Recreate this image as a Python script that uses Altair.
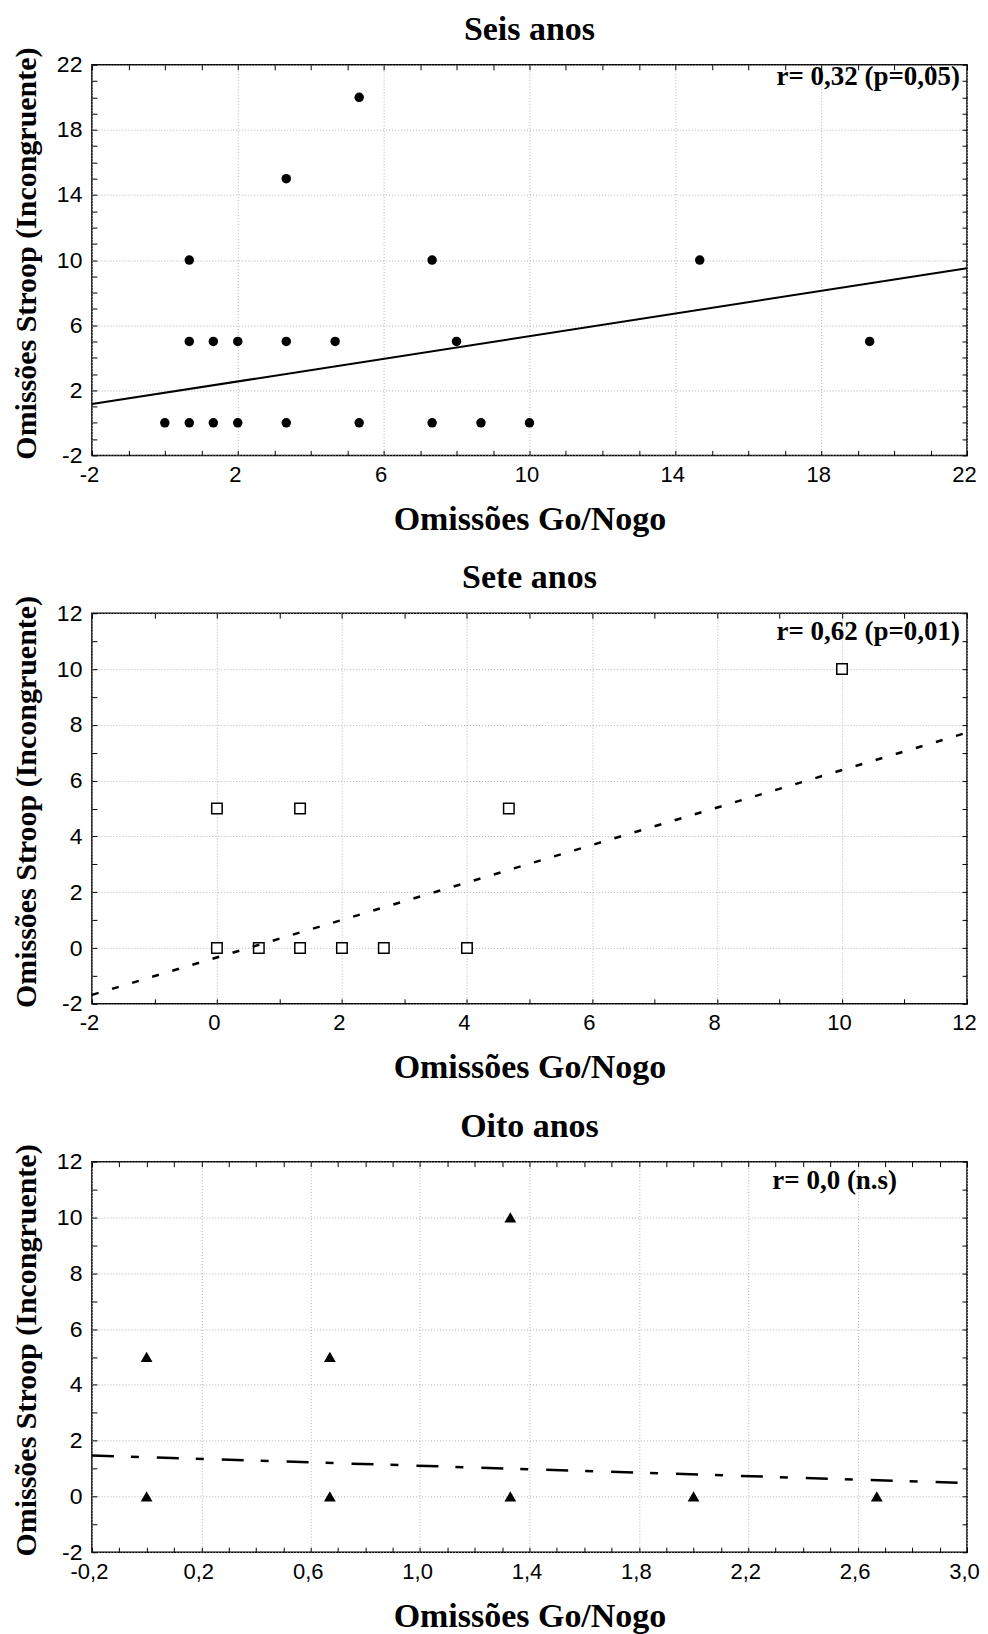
import altair as alt
import pandas as pd

# ---------------- data ----------------
panel_titles = ["Seis anos", "Sete anos", "Oito anos"]
annotations = ["r= 0,32 (p=0,05)", "r= 0,62 (p=0,01)", "r= 0,0 (n.s)"]
x_title = "Omissões Go/Nogo"
y_title = "Omissões Stroop (Incongruente)"

# six-year-olds
x6 = [0, 0.67, 1.33, 2, 3.33, 5.33, 7.33, 8.67, 10,
      0.67, 1.33, 2, 3.33, 4.67, 8, 19.33,
      0.67, 7.33, 14.67,
      3.33,
      5.33]
y6 = [0, 0, 0, 0, 0, 0, 0, 0, 0,
      5, 5, 5, 5, 5, 5, 5,
      10, 10, 10,
      15,
      20]
fit6_x = [-2, 22]
fit6_y = [1.15, 9.5]

# seven-year-olds
x7 = [0, 0.67, 1.33, 2, 2.67, 4, 0, 1.33, 4.67, 10]
y7 = [0, 0, 0, 0, 0, 0, 5, 5, 5, 10]
fit7_x = [-2, 12]
fit7_y = [-1.68, 7.72]

# eight-year-olds
x8 = [0, 0.67, 1.33, 2, 2.67, 0, 0.67, 1.33]
y8 = [0, 0, 0, 0, 0, 5, 5, 10]
fit8_x = [-0.2, 3.0]
fit8_y = [1.47, 0.48]

# axis tick labels
x6_labels = [-2, 2, 6, 10, 14, 18, 22]
y6_labels = [-2, 2, 6, 10, 14, 18, 22]
x7_labels = [-2, 0, 2, 4, 6, 8, 10, 12]
y7_labels = [-2, 0, 2, 4, 6, 8, 10, 12]
x8_labels = [-0.2, 0.2, 0.6, 1.0, 1.4, 1.8, 2.2, 2.6, 3.0]
y8_labels = [-2, 0, 2, 4, 6, 8, 10, 12]

# ---------------- styling ----------------
W, H = 876, 391
SERIF = "Liberation Serif"
SANS = "Liberation Sans"
GRID = "#b4b4b4"


def minor(lo, hi, step):
    n = int(round((hi - lo) / step))
    return [round(lo + i * step, 4) for i in range(n + 1)]


INT_FMT = "(datum.value < 0 ? '-' : '') + format(abs(datum.value), 'd')"
DEC_FMT = "(datum.value < 0 ? '-' : '') + replace(format(abs(datum.value), '.1f'), '.', ',')"


def main_axis(orient, values, fmt):
    common = dict(
        orient=orient, values=values, grid=True, gridColor=GRID, gridDash=[1, 2],
        gridWidth=1, ticks=False, tickSize=0, domain=False, labelFont=SANS,
        labelColor="black", labelFlush=False, labelOverlap=False,
        labelExpr=fmt, titleFont=SERIF, titleFontWeight="bold", titleColor="black",
        titleBaseline="alphabetic",
    )
    if orient == "bottom":
        return alt.Axis(labelPadding=9, labelFontSize=22, labelOffset=-3,
                        title=x_title, titleFontSize=34, titleY=74, **common)
    return alt.Axis(labelPadding=10, labelFontSize=23, title=y_title,
                    titleFontSize=30, titleX=-56, titleY=H / 2 - 7,
                    labelBaseline="middle", **common)


def tick_axis(orient, values, offset):
    return alt.Axis(orient=orient, offset=offset, values=values, grid=False,
                    labels=False, domain=False, ticks=True, tickSize=5,
                    tickColor="black", tickWidth=1, title=None)


def panel(data, fx, fy, xdom, ydom, xlab, ylab, xminor, yminor, fmt,
          mark_fn, line_kw, title, annot, adx, ady):
    fit = pd.DataFrame({"x": fx, "y": fy})
    note = pd.DataFrame({"x": [xdom[1]], "y": [ydom[1]], "t": [annot]})
    xs_ = alt.Scale(domain=xdom, nice=False, zero=False)
    ys_ = alt.Scale(domain=ydom, nice=False, zero=False)

    pts = mark_fn(alt.Chart(data)).encode(
        x=alt.X("x:Q", scale=xs_, axis=main_axis("bottom", xlab, fmt)),
        y=alt.Y("y:Q", scale=ys_, axis=main_axis("left", ylab, INT_FMT)),
    )
    line = alt.Chart(fit).mark_line(color="black", **line_kw).encode(
        x=alt.X("x:Q", scale=xs_, axis=tick_axis("top", xminor, -H)),
        y=alt.Y("y:Q", scale=ys_, axis=tick_axis("right", yminor, -W)),
    )
    txt = alt.Chart(note).mark_text(
        align="right", baseline="middle", dx=adx, dy=ady, font=SERIF,
        fontSize=27, fontWeight="bold", color="black",
    ).encode(
        x=alt.X("x:Q", scale=xs_, axis=tick_axis("bottom", xminor, -H)),
        y=alt.Y("y:Q", scale=ys_, axis=tick_axis("left", yminor, -W)),
        text="t:N",
    )
    return alt.layer(pts, line, txt).resolve_axis(
        x="independent", y="independent"
    ).properties(
        width=W, height=H,
        title=alt.TitleParams(text=title, font=SERIF, fontSize=34,
                              fontWeight="bold", color="black",
                              anchor="middle", offset=0),
    )


d6 = pd.DataFrame({"x": x6, "y": y6})
d7 = pd.DataFrame({"x": x7, "y": y7})
d8 = pd.DataFrame({"x": x8, "y": y8})

p1 = panel(d6, fit6_x, fit6_y, [-2, 22], [-2, 22], x6_labels, y6_labels,
           minor(-2, 22, 1), minor(-2, 22, 1), INT_FMT,
           lambda c: c.mark_circle(color="black", opacity=1, size=90),
           dict(strokeWidth=2), panel_titles[0], annotations[0], -7, 12)

p2 = panel(d7, fit7_x, fit7_y, [-2, 12], [-2, 12], x7_labels, y7_labels,
           minor(-2, 12, 1), minor(-2, 12, 1), INT_FMT,
           lambda c: c.mark_square(fill="white", stroke="black",
                                   strokeWidth=1.5, size=110, opacity=1),
           dict(strokeWidth=2.5, strokeDash=[7, 14]), panel_titles[1],
           annotations[1], -7, 19)

p3 = panel(d8, fit8_x, fit8_y, [-0.2, 3.0], [-2, 12], x8_labels, y8_labels,
           minor(-0.2, 3.0, 0.1), minor(-2, 12, 1), DEC_FMT,
           lambda c: c.mark_point(shape="triangle-up", filled=True,
                                  color="black", opacity=1, size=140),
           dict(strokeWidth=2.5, strokeDash=[22, 17, 8, 18]), panel_titles[2],
           annotations[2], -70, 19)

chart = alt.vconcat(p1, p2, p3, spacing=23).properties(
    padding={"top": 3, "left": 3, "right": -1, "bottom": 0},
    background="white",
).configure_view(stroke="black", strokeWidth=1.5)

chart.save("out.html", embed_options={"renderer": "svg", "actions": False})
